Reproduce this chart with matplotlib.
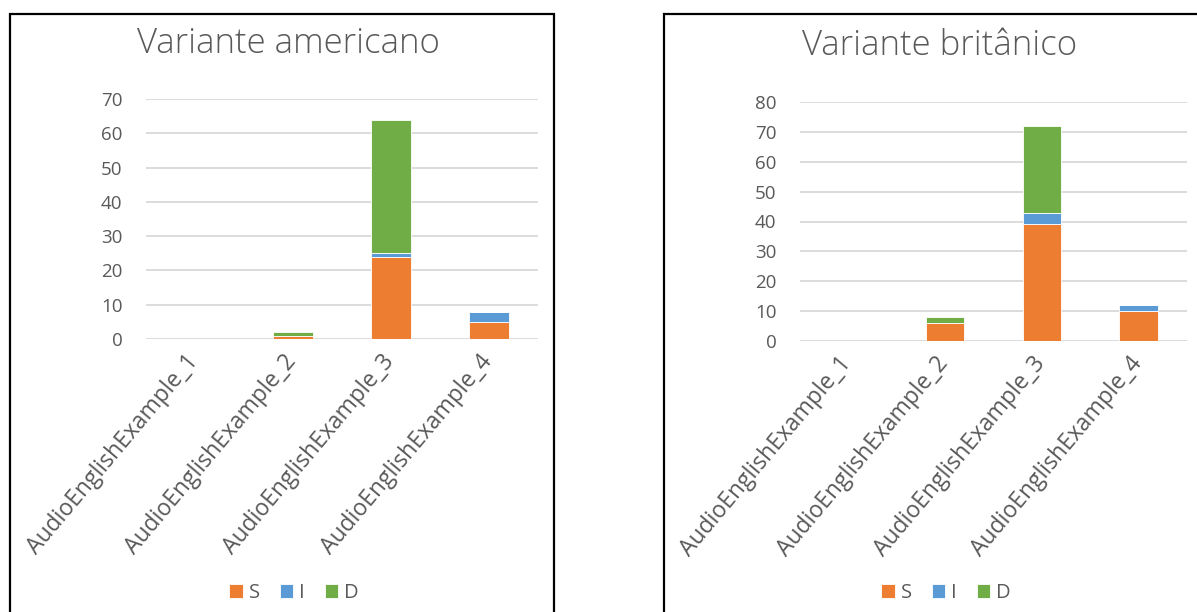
import matplotlib.pyplot as plt
from matplotlib.patches import Rectangle
from matplotlib.transforms import ScaledTranslation
import numpy as np

plt.rcParams['font.family'] = ['Open Sans', 'DejaVu Sans']

categories = ["AudioEnglishExample_1", "AudioEnglishExample_2",
              "AudioEnglishExample_3", "AudioEnglishExample_4"]
series_names = ["S", "I", "D"]
colors = ["#ED7D31", "#5B9BD5", "#70AD47"]

# substitutions, insertions, deletions per audio file
us_S = [0, 1, 24, 5]
us_I = [0, 0, 1, 3]
us_D = [0, 1, 39, 0]

uk_S = [0, 6, 39, 10]
uk_I = [0, 0, 4, 2]
uk_D = [0, 2, 29, 0]

text_color = "#595959"
grid_color = "#d9d9d9"

W, H = 1197, 612
fig = plt.figure(figsize=(W / 100, H / 100), dpi=100)


def fx(px):
    return px / W


def fy(py):
    return 1 - py / H


def draw_panel(rect, title, title_xy, data, ymax, legend_xy):
    ax = fig.add_axes(rect)
    x = np.arange(len(categories))
    bottom = np.zeros(len(categories))
    for name, vals, c in zip(series_names, data, colors):
        ax.bar(x, vals, width=0.4, bottom=bottom, color=c, label=name,
               edgecolor="white", linewidth=0.6, zorder=3)
        bottom += np.array(vals)
    ax.set_xlim(-0.5, len(categories) - 0.5)
    ax.set_ylim(0, ymax)
    ax.set_yticks(np.arange(0, ymax + 1, 10))
    ax.yaxis.grid(True, color=grid_color, linewidth=1.3, zorder=0)
    for s in ax.spines.values():
        s.set_visible(False)
    ax.tick_params(axis="both", length=0, colors=text_color, labelsize=13.5)
    ax.tick_params(axis="y", pad=17)
    ax.set_xticks(x)
    ax.set_xticklabels(categories, rotation=50, ha="right", va="top",
                       rotation_mode="anchor", color=text_color, fontsize=16.5)
    ax.tick_params(axis="x", pad=8)
    shift = ScaledTranslation(-10 / 100, 0, fig.dpi_scale_trans)
    for lbl in ax.get_xticklabels():
        lbl.set_transform(lbl.get_transform() + shift)
    fig.text(fx(title_xy[0]), fy(title_xy[1]), title, ha="center", va="center",
             fontsize=25, color=text_color, fontweight="light")
    handles, labels = ax.get_legend_handles_labels()
    fig.legend(handles, labels, loc="center", ncol=3, frameon=False,
               bbox_to_anchor=(fx(legend_xy[0]), fy(legend_xy[1])),
               handlelength=0.65, handleheight=0.65, handletextpad=0.3,
               columnspacing=1.0, fontsize=14.5, labelcolor=text_color)
    return ax


draw_panel([fx(146), fy(339), fx(538) - fx(146), fy(99) - fy(339)],
           "Variante americano", (288, 44), [us_S, us_I, us_D], 70, (294, 593))
draw_panel([fx(800), fy(341), fx(1187) - fx(800), fy(102) - fy(341)],
           "Variante britânico", (940, 46), [uk_S, uk_I, uk_D], 80, (946, 593))

# chart frames
fig.add_artist(Rectangle((fx(10), fy(640)), fx(554) - fx(10), fy(14) - fy(640),
                         transform=fig.transFigure, fill=False,
                         edgecolor="black", linewidth=1.6))
fig.add_artist(Rectangle((fx(664), fy(640)), fx(1230) - fx(664), fy(14) - fy(640),
                         transform=fig.transFigure, fill=False,
                         edgecolor="black", linewidth=1.6))

fig.savefig("out.png", dpi=100)
